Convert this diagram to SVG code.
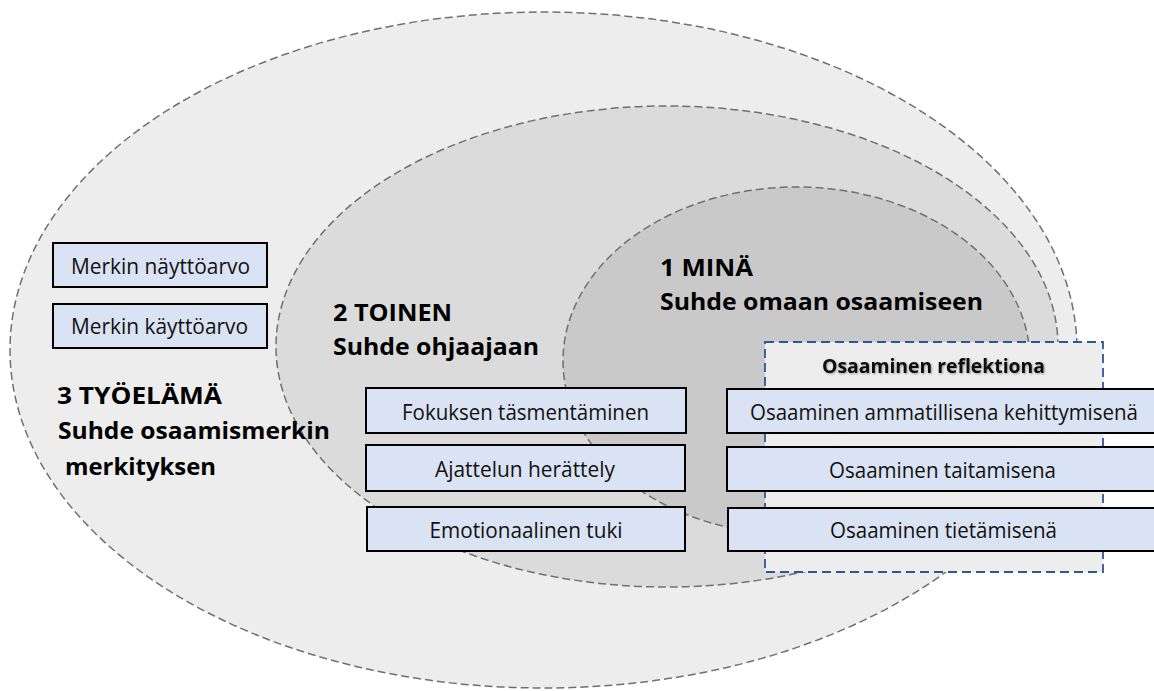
<svg xmlns="http://www.w3.org/2000/svg" width="1154" height="691" viewBox="0 0 1154 691">
<defs>
<style>
.zone{stroke:#707070;stroke-width:1.5;stroke-dasharray:8 4;}
.z3{fill:#EDEDED;}
.z2{fill:#DBDBDB;}
.z1{fill:#C9C9C9;}
.refl{fill:#EDEDED;stroke:#2F5597;stroke-width:1.8;stroke-dasharray:9 5;}
.box{fill:#DAE3F3;stroke:#000000;stroke-width:2;}
.bt{font-family:"Open Sans","Liberation Sans",Arial,sans-serif;font-size:21px;fill:#111111;text-anchor:middle;}
.tt{font-family:"Open Sans","Liberation Sans",Arial,sans-serif;font-size:24px;font-weight:bold;fill:#000000;}
.rt{font-family:"Open Sans","Liberation Sans",Arial,sans-serif;font-size:19px;font-weight:bold;fill:#111111;text-anchor:middle;}
</style>
<filter id="soft" x="-5%" y="-30%" width="110%" height="160%">
<feDropShadow dx="1" dy="1" stdDeviation="0.8" flood-color="#000000" flood-opacity="0.35"/>
</filter>
</defs>
<rect width="1154" height="691" fill="#FFFFFF"/>
<g id="zone-3-tyoelama">
<ellipse class="zone z3" cx="543.5" cy="350" rx="533.5" ry="338"/>
</g>
<g id="zone-2-toinen">
<ellipse class="zone z2" cx="667" cy="346.5" rx="391" ry="240.5"/>
</g>
<g id="zone-1-mina">
<ellipse class="zone z1" cx="796.5" cy="361" rx="233.5" ry="174"/>
</g>
<g id="osaaminen-reflektiona">
<rect class="refl" x="765" y="342" width="338" height="230"/>
<text class="rt" x="933.5" y="373" textLength="223" lengthAdjust="spacingAndGlyphs" filter="url(#soft)">Osaaminen reflektiona</text>
</g>
<g id="label-3">
<text class="tt" x="57" y="404" textLength="165" lengthAdjust="spacingAndGlyphs">3 TYÖELÄMÄ</text>
<text class="tt" x="58" y="439" textLength="272" lengthAdjust="spacingAndGlyphs">Suhde osaamismerkin</text>
<text class="tt" x="65" y="475" textLength="151" lengthAdjust="spacingAndGlyphs">merkityksen</text>
</g>
<g id="label-2">
<text class="tt" x="333" y="321" textLength="119" lengthAdjust="spacingAndGlyphs">2 TOINEN</text>
<text class="tt" x="333" y="355" textLength="206" lengthAdjust="spacingAndGlyphs">Suhde ohjaajaan</text>
</g>
<g id="label-1">
<text class="tt" x="660" y="276" textLength="93" lengthAdjust="spacingAndGlyphs">1 MINÄ</text>
<text class="tt" x="660" y="310" textLength="323" lengthAdjust="spacingAndGlyphs">Suhde omaan osaamiseen</text>
</g>
<g id="merkin-nayttoarvo">
<rect class="box" x="53" y="243" width="214" height="44"/>
<text class="bt" x="160.5" y="274" textLength="179" lengthAdjust="spacingAndGlyphs">Merkin näyttöarvo</text>
</g>
<g id="merkin-kayttoarvo">
<rect class="box" x="53" y="304" width="214" height="44"/>
<text class="bt" x="159.5" y="334" textLength="177" lengthAdjust="spacingAndGlyphs">Merkin käyttöarvo</text>
</g>
<g id="fokuksen-tasmentaminen">
<rect class="box" x="366" y="388" width="320" height="45"/>
<text class="bt" x="525.5" y="420" textLength="247" lengthAdjust="spacingAndGlyphs">Fokuksen täsmentäminen</text>
</g>
<g id="ajattelun-herattely">
<rect class="box" x="366" y="445" width="319" height="46"/>
<text class="bt" x="525" y="477" textLength="180" lengthAdjust="spacingAndGlyphs">Ajattelun herättely</text>
</g>
<g id="emotionaalinen-tuki">
<rect class="box" x="367" y="507" width="318" height="44"/>
<text class="bt" x="526" y="538" textLength="193" lengthAdjust="spacingAndGlyphs">Emotionaalinen tuki</text>
</g>
<g id="ammatillisena-kehittymisena">
<rect class="box" x="727" y="389" width="434" height="44"/>
<text class="bt" x="944" y="420" textLength="388" lengthAdjust="spacingAndGlyphs">Osaaminen ammatillisena kehittymisenä</text>
</g>
<g id="taitamisena">
<rect class="box" x="727" y="447" width="434" height="44"/>
<text class="bt" x="942.5" y="478" textLength="227" lengthAdjust="spacingAndGlyphs">Osaaminen taitamisena</text>
</g>
<g id="tietamisena">
<rect class="box" x="728" y="508" width="433" height="43"/>
<text class="bt" x="943.5" y="538" textLength="227" lengthAdjust="spacingAndGlyphs">Osaaminen tietämisenä</text>
</g>
<g id="connectors"></g>
</svg>
